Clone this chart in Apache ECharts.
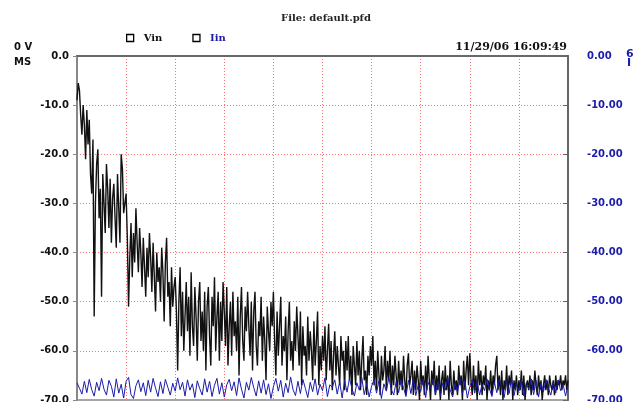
<!DOCTYPE html>
<html>
<head>
<meta charset="utf-8">
<script src="https://cdn.jsdelivr.net/npm/echarts@6/dist/echarts.min.js"></script>
<style>
html,body{margin:0;padding:0;background:#fff;overflow:hidden;}
#c{width:633px;height:402px;}
</style>
</head>
<body>
<div id="c"></div>
<script>
// Vin sampled every 0.25 x-units, Iin every 0.5 x-units (x axis 0..100)
var vinStep = 0.25;
var iinStep = 0.5;
var vinValues = [
 -9,-5.5,-7,-12,-16,-10,-14,-21,-11,-18,
 -13,-24,-28,-17,-53,-30,-22,-19,-33,-27,
 -49,-24,-30,-36,-22,-27,-35,-25,-38,-29,
 -26,-33,-39,-24,-31,-38,-20,-23,-32,-30,
 -28,-37,-51,-41,-34,-45,-36,-42,-31,-38,
 -44,-35,-40,-47,-37,-43,-49,-39,-45,-36,
 -41,-48,-38,-45,-52,-40,-46,-43,-50,-39,
 -44,-54,-42,-37,-49,-46,-55,-43,-51,-47,
 -45,-52,-64,-50,-43,-57,-48,-60,-53,-46,
 -56,-49,-61,-44,-55,-59,-47,-53,-62,-50,
 -46,-58,-52,-60,-48,-64,-51,-47,-57,-63,
 -49,-55,-45,-60,-53,-48,-62,-50,-58,-46,
 -52,-59,-47,-63,-55,-50,-61,-48,-57,-54,
 -60,-49,-65,-53,-47,-58,-62,-51,-56,-48,
 -55,-61,-50,-64,-52,-48,-59,-63,-54,-57,
 -49,-62,-53,-58,-66,-51,-56,-60,-50,-55,
 -48,-58,-65,-52,-61,-55,-49,-63,-57,-60,
 -53,-66,-56,-50,-62,-58,-64,-54,-60,-51,
 -57,-63,-52,-67,-55,-61,-59,-65,-53,-62,
 -56,-60,-66,-54,-63,-58,-52,-67,-59,-64,
 -57,-62,-55,-66,-60,-54.5,-64,-58,-68,-61,
 -56,-65,-59,-63,-67,-57,-62,-60,-68,-58,
 -64,-57,-66,-61,-69,-59,-63,-67,-58,-65,
 -60,-68,-62,-57,-66,-64,-69,-61,-65,-59,
 -63,-57,-67,-62,-68,-60,-65,-69,-61,-66,
 -64,-59,-68,-62,-66,-60,-69,-63,-67,-61,
 -65,-69,-62,-67,-64,-68,-61,-66,-69,-63,
 -60.5,-67,-65,-62,-69,-64,-68,-63,-66,-70,
 -62,-67,-65,-69,-63,-68,-61,-66,-70,-64,
 -67,-62,-69,-65,-68,-63,-70,-66,-64,-69,
 -63,-68,-65,-70,-62,-67,-69,-64,-68,-66,
 -69,-63,-67,-65,-70,-62,-68,-64,-61,-67,
 -60.5,-66,-69,-63,-68,-65,-70,-62,-67,-64,
 -69,-65,-67,-63,-70,-66,-68,-64,-69,-65,
 -67,-63,-61,-68,-65,-69,-64,-70,-66,-68,
 -63,-69,-65,-67,-64,-70,-66,-68,-65,-69,
 -66,-68,-64,-69,-65,-70,-67,-66,-68,-65,
 -69,-66,-68,-64,-67,-69,-65,-68,-66,-70,
 -67,-65,-68,-66,-69,-65,-67,-68,-66,-69,
 -65,-68,-66,-67,-65,-68,-66,-67,-65,-68,
 -66
];
var iinValues = [
 -66.5,-67.6,-68.8,-66.2,-68.5,-65.8,-67.9,-69.2,-66.4,-68.1,
 -65.6,-67.8,-69.0,-66.0,-67.2,-69.4,-65.7,-68.6,-66.8,-69.6,
 -66.2,-65.4,-68.9,-69.7,-67.1,-65.9,-68.3,-66.5,-69.1,-66.0,
 -68.4,-65.6,-67.6,-69.3,-66.3,-68.7,-65.8,-67.4,-69.0,-66.6,
 -68.2,-65.5,-67.9,-66.4,-69.2,-65.9,-68.0,-66.7,-69.5,-66.1,
 -67.7,-69.0,-65.7,-68.4,-66.2,-69.3,-67.0,-65.6,-68.8,-66.5,
 -69.4,-66.9,-65.8,-68.1,-66.3,-69.1,-65.5,-67.8,-69.6,-66.4,
 -68.0,-65.4,-67.5,-69.2,-66.1,-68.6,-65.9,-68.9,-66.7,-69.7,
 -67.3,-65.6,-68.2,-66.0,-69.4,-66.6,-68.5,-65.3,-67.9,-69.1,
 -66.2,-68.7,-65.8,-67.6,-69.5,-66.4,-68.3,-65.7,-69.0,-66.8,
 -68.1,-65.5,-69.3,-66.9,-67.4,-65.9,-68.8,-66.3,-69.6,-66.0,
 -68.4,-65.6,-67.7,-69.2,-66.5,-68.0,-65.4,-68.9,-66.6,-69.4,
 -67.2,-65.8,-68.6,-66.1,-69.7,-66.7,-68.2,-65.5,-67.8,-69.0,
 -66.3,-68.5,-65.9,-67.5,-69.3,-66.0,-68.7,-65.6,-69.1,-66.9,
 -68.3,-65.7,-69.5,-66.4,-67.6,-65.8,-68.9,-66.2,-69.2,-66.5,
 -68.0,-65.5,-67.9,-69.4,-66.6,-68.4,-65.6,-68.8,-66.1,-69.6,
 -67.3,-65.9,-68.6,-66.3,-69.0,-66.8,-68.1,-65.7,-67.7,-69.3,
 -66.4,-68.5,-65.8,-67.4,-69.5,-66.2,-68.7,-65.6,-69.1,-66.7,
 -68.2,-65.9,-69.2,-66.5,-67.8,-65.7,-68.9,-66.0,-69.4,-66.6,
 -68.3,-65.8,-67.6,-69.0,-66.4,-68.6,-65.9,-68.1,-66.8,-69.2,
 -67.0
];
var titleText = 'File: default.pfd';
var dateText = '11/29/06 16:09:49';

function pairs(vals, step){ return vals.map(function(v,i){ return [i*step, v]; }); }

var blue = '#1c1caa';
var fontB = '"DejaVu Sans", sans-serif';
var fontS = '"DejaVu Serif", serif';

var chart = echarts.init(document.getElementById('c'));
chart.setOption({
  animation: false,
  backgroundColor: '#fff',
  grid: { left: 77, width: 491, top: 56, height: 344, containLabel: false, outerBoundsMode: 'none',
    show: true, borderColor: '#888', borderWidth: 1.5 },
  title: { text: titleText, left: 321, top: 8, textAlign: 'center',
    textStyle: { fontFamily: fontS, fontWeight: 'bold', fontSize: 10, color: '#222' } },
  legend: {
    left: 121, top: 28, itemWidth: 7, itemHeight: 7, itemGap: 30, icon: 'rect',
    textStyle: { fontFamily: fontS, fontWeight: 'bold', fontSize: 10, padding: [0, 0, 0, 5] },
    data: [
      { name: 'Vin', textStyle: { color: '#111' }, itemStyle: { color: '#fff', borderColor: '#000', borderWidth: 1.3 } },
      { name: 'Iin', textStyle: { color: blue }, itemStyle: { color: '#fff', borderColor: '#000', borderWidth: 1.3 } }
    ]
  },
  graphic: [
    { type: 'text', right: 66, top: 42, style: { text: dateText, font: 'bold 11px "DejaVu Serif", serif', fill: '#111' } },
    { type: 'text', left: 14, top: 42, style: { text: '0 V', font: 'bold 10px "DejaVu Sans", sans-serif', fill: '#111' } },
    { type: 'text', left: 14, top: 57, style: { text: 'MS', font: 'bold 10px "DejaVu Sans", sans-serif', fill: '#111' } },
    { type: 'text', left: 626, top: 49, style: { text: '6', font: 'bold 11px "DejaVu Sans", sans-serif', fill: blue } },
    { type: 'text', left: 627, top: 58, style: { text: 'I', font: 'bold 11px "DejaVu Sans", sans-serif', fill: blue } }
  ],
  xAxis: {
    type: 'value', min: 0, max: 100, interval: 10,
    axisLabel: { show: false },
    axisTick: { show: false },
    axisLine: { lineStyle: { color: '#555', width: 1.5 } },
    splitLine: { show: true, showMinLine: false, showMaxLine: false,
      lineStyle: { color: '#ff7070', type: [1, 2], width: 1 } }
  },
  yAxis: [
    { type: 'value', min: -70, max: 0, interval: 10, position: 'left',
      axisLine: { show: true, lineStyle: { color: '#888', width: 2 } },
      axisTick: { show: true, length: 4, lineStyle: { color: '#888' } },
      axisLabel: { margin: 8, color: '#111', fontFamily: fontB, fontWeight: 'bold', fontSize: 10,
        formatter: function(v){ return v.toFixed(1); } },
      splitLine: { show: true, showMinLine: false, showMaxLine: false,
        lineStyle: { color: '#ff7070', type: [1, 2], width: 1 } } },
    { type: 'value', min: -70, max: 0, interval: 10, position: 'right',
      axisLine: { show: true, lineStyle: { color: '#666', width: 2 } },
      axisTick: { show: true, inside: true, length: 5, lineStyle: { color: '#666' } },
      axisLabel: { margin: 19, color: blue, fontFamily: fontB, fontWeight: 'bold', fontSize: 10,
        formatter: function(v){ return v.toFixed(2); } },
      splitLine: { show: false } }
  ],
  series: [
    { name: 'Vin', type: 'line', data: pairs(vinValues, vinStep), yAxisIndex: 0, symbol: 'none',
      lineStyle: { color: '#111', width: 1.4 }, itemStyle: { color: '#000' } },
    { name: 'Iin', type: 'line', data: pairs(iinValues, iinStep), yAxisIndex: 1, symbol: 'none',
      lineStyle: { color: blue, width: 1 }, itemStyle: { color: blue } }
  ]
});
</script>
</body>
</html>
